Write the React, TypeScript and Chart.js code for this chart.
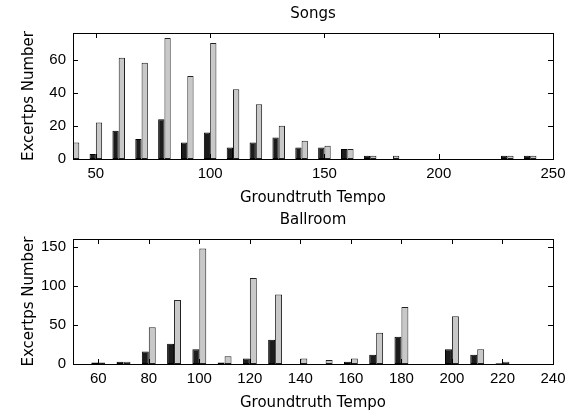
import React, { useEffect, useRef } from "react";
import { Chart, registerables } from "chart.js";

Chart.register(...registerables);

// ---- Songs panel data ----
const songsTempos = [40, 50, 60, 70, 80, 90, 100, 110, 120, 130, 140, 150, 160, 170, 180, 190, 200, 210, 220, 230, 240];
const songsBlack = [0, 3, 17, 12, 24, 10, 16, 7, 10, 13, 7, 7, 6, 2, 0, 0, 0, 0, 0, 2, 2];
const songsGray = [10, 22, 61, 58, 73, 50, 70, 42, 33, 20, 11, 8, 6, 2, 2, 0, 0, 0, 0, 2, 2];
const songsXTicks = [50, 100, 150, 200, 250];
const songsYTicks = [0, 20, 40, 60];

// ---- Ballroom panel data ----
const ballroomTempos = [60, 70, 80, 90, 100, 110, 120, 130, 140, 150, 160, 170, 180, 190, 200, 210, 220, 230];
const ballroomBlack = [2, 3, 16, 26, 19, 2, 7, 31, 0, 0, 3, 12, 35, 0, 19, 12, 1, 0];
const ballroomGray = [2, 3, 47, 82, 148, 10, 110, 89, 7, 5, 7, 40, 73, 0, 61, 19, 3, 0];
const ballroomXTicks = [60, 80, 100, 120, 140, 160, 180, 200, 220, 240];
const ballroomYTicks = [0, 50, 100, 150];

const xTitle = "Groundtruth Tempo";
const yTitle = "Excertps Number";

const tickFont = { family: "'Liberation Sans', Arial, sans-serif", size: 15 };
const titleFont = { family: "'DejaVu Sans', sans-serif", size: 15 };

const framePlugin = {
  id: "frame",
  afterDatasetsDraw(chart: any, _args: any, opts: any) {
    const { ctx, chartArea, scales } = chart;
    const { left, right, top, bottom } = chartArea;
    const len = 5;
    ctx.save();
    ctx.strokeStyle = "#000";
    ctx.lineWidth = 1;
    ctx.strokeRect(left + 0.5, top + 0.5, right - left, bottom - top);
    ctx.beginPath();
    (opts.xTicks || []).forEach((v: number) => {
      const px = Math.round(scales.x.getPixelForValue(v)) + 0.5;
      ctx.moveTo(px, bottom);
      ctx.lineTo(px, bottom - len);
      ctx.moveTo(px, top);
      ctx.lineTo(px, top + len);
    });
    (opts.yTicks || []).forEach((v: number) => {
      const py = Math.round(scales.y.getPixelForValue(v)) + 0.5;
      ctx.moveTo(left, py);
      ctx.lineTo(left + len, py);
      ctx.moveTo(right, py);
      ctx.lineTo(right - len, py);
    });
    ctx.stroke();
    ctx.restore();
  },
};

const panelTitlePlugin = {
  id: "panelTitle",
  afterDraw(chart: any, _args: any, opts: any) {
    const { ctx, chartArea } = chart;
    ctx.save();
    ctx.font = `${titleFont.size}px ${titleFont.family}`;
    ctx.fillStyle = "#000";
    ctx.textAlign = "center";
    ctx.textBaseline = "middle";
    ctx.fillText(opts.text, (chartArea.left + chartArea.right) / 2, chartArea.top - 18.5);
    ctx.restore();
  },
};

function makeConfig(
  title: string,
  tempos: number[],
  black: number[],
  gray: number[],
  xMin: number,
  xMax: number,
  yMax: number,
  xTicks: number[],
  yTicks: number[],
  padTop: number,
  padBottom: number
): any {
  return {
    type: "bar",
    data: {
      datasets: [
        {
          data: tempos.map((t, i) => ({ x: t, y: black[i] })),
          backgroundColor: "#1c1c1c",
          borderColor: "#000",
          borderWidth: 1,
          borderSkipped: false,
          categoryPercentage: 0.55,
          barPercentage: 1.0,
        },
        {
          data: tempos.map((t, i) => ({ x: t, y: gray[i] })),
          backgroundColor: "#c8c8c8",
          borderColor: "#222",
          borderWidth: 1,
          borderSkipped: false,
          categoryPercentage: 0.55,
          barPercentage: 1.0,
        },
      ],
    },
    options: {
      responsive: false,
      animation: false,
      events: [],
      layout: { padding: { top: padTop, right: 23, bottom: padBottom, left: 0 } },
      plugins: {
        legend: { display: false },
        tooltip: { enabled: false },
        title: { display: false },
        frame: { xTicks, yTicks },
        panelTitle: { text: title },
      },
      scales: {
        x: {
          type: "linear",
          min: xMin,
          max: xMax,
          offset: false,
          grid: { display: false, drawTicks: false },
          border: { display: false },
          afterBuildTicks: (s: any) => {
            s.ticks = xTicks.map((v) => ({ value: v }));
          },
          ticks: {
            font: tickFont,
            color: "#000",
            padding: 6,
            maxRotation: 0,
            autoSkip: false,
          },
          title: {
            display: true,
            text: xTitle,
            font: titleFont,
            color: "#000",
            padding: { top: 0, bottom: 0 },
          },
          afterFit: (s: any) => {
            s.height = 48;
          },
        },
        y: {
          type: "linear",
          min: 0,
          max: yMax,
          grid: { display: false, drawTicks: false },
          border: { display: false },
          afterBuildTicks: (s: any) => {
            s.ticks = yTicks.map((v) => ({ value: v }));
          },
          ticks: {
            font: tickFont,
            color: "#000",
            padding: 7,
            autoSkip: false,
          },
          title: {
            display: true,
            text: yTitle,
            font: titleFont,
            color: "#000",
            padding: { top: 20, bottom: 0 },
          },
          afterFit: (s: any) => {
            s.width = 73;
          },
        },
      },
    },
    plugins: [framePlugin, panelTitlePlugin],
  };
}

export default function App() {
  const topRef = useRef<HTMLCanvasElement>(null);
  const bottomRef = useRef<HTMLCanvasElement>(null);

  useEffect(() => {
    const c1 = new Chart(
      topRef.current as HTMLCanvasElement,
      makeConfig("Songs", songsTempos, songsBlack, songsGray, 40, 250, 76, songsXTicks, songsYTicks, 33, 0)
    );
    const c2 = new Chart(
      bottomRef.current as HTMLCanvasElement,
      makeConfig("Ballroom", ballroomTempos, ballroomBlack, ballroomGray, 50, 240, 160, ballroomXTicks, ballroomYTicks, 32, 3)
    );
    return () => {
      c1.destroy();
      c2.destroy();
    };
  }, []);

  return (
    <div style={{ position: "absolute", left: 0, top: 0, width: 576, height: 415, background: "#fff" }}>
      <canvas ref={topRef} width={576} height={207} style={{ display: "block" }} />
      <canvas ref={bottomRef} width={576} height={208} style={{ display: "block" }} />
    </div>
  );
}
